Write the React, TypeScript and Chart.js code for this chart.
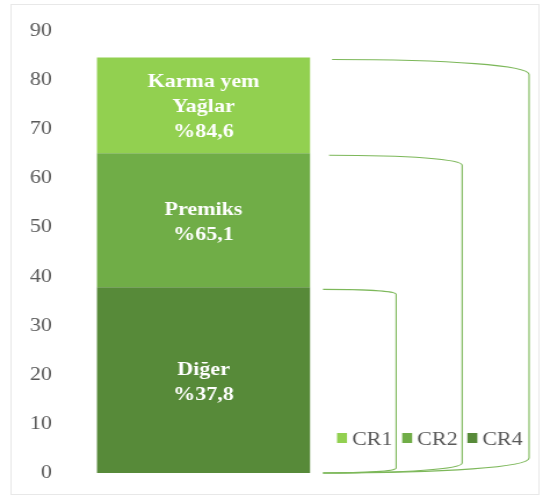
import React, { useEffect, useRef } from 'react';
import { Chart, registerables } from 'chart.js';

Chart.register(...registerables);

// ---- data ----
const categories = [''];
const seriesNames = ['CR4', 'CR2', 'CR1'];
const cumulativeShares = [37.8, 65.1, 84.6];
const segmentTexts = [
  ['Diğer', '%37,8'],
  ['Premiks', '%65,1'],
  ['Karma yem', 'Yağlar', '%84,6'],
];
const legendOrder = ['CR1', 'CR2', 'CR4'];
const yMin = 0;
const yMax = 90;
const yStep = 10;

// ---- styles ----
const seriesColors = ['#578A39', '#70AD47', '#92D050'];
const W = 468;
const H = 499;
const CSS_W = 543;
const SERIF = '"Liberation Serif", "Times New Roman", serif';
const bracketGeom = [
  { x0: 278.4, x1: 341.4, drop: 5 },
  { x0: 283.6, x1: 398.3, drop: 10 },
  { x0: 286.2, x1: 456, drop: 15 },
];
const bracketEndX = 278.4;

const segmentValues = cumulativeShares.map((v, i) =>
  +(v - (i > 0 ? cumulativeShares[i - 1] : 0)).toFixed(1)
);

const framePlugin = {
  id: 'frame',
  beforeDraw(chart: any) {
    const ctx = chart.ctx;
    ctx.save();
    ctx.fillStyle = '#ffffff';
    ctx.fillRect(0, 0, chart.width, chart.height);
    ctx.strokeStyle = '#E8E8E8';
    ctx.lineWidth = 1;
    ctx.strokeRect(9.5, 4.5, 455, 490);
    ctx.restore();
  },
};

const overlayPlugin = {
  id: 'overlay',
  afterDatasetsDraw(chart: any) {
    const ctx = chart.ctx;
    const y = chart.scales.y;
    ctx.save();
    // segment labels
    ctx.font = `bold 19px ${SERIF}`;
    ctx.fillStyle = '#ffffff';
    ctx.textAlign = 'center';
    ctx.textBaseline = 'middle';
    chart.data.datasets.forEach((ds: any, i: number) => {
      const el = chart.getDatasetMeta(i).data[0];
      if (!el) return;
      const cx = el.x;
      const cy = (el.y + el.base) / 2 + 2;
      const lines = segmentTexts[i];
      const lh = 25;
      lines.forEach((t, k) => {
        ctx.fillText(t, cx, cy + (k - (lines.length - 1) / 2) * lh);
      });
    });
    // brackets
    ctx.strokeStyle = '#7DB85A';
    ctx.lineWidth = 1.1;
    const yB = y.getPixelForValue(0);
    cumulativeShares.forEach((v, i) => {
      const g = bracketGeom[i];
      const yT = y.getPixelForValue(v) + 2;
      ctx.beginPath();
      ctx.moveTo(g.x0, yT);
      ctx.bezierCurveTo(g.x0 + (g.x1 - g.x0) * 0.6, yT, g.x1, yT + g.drop * 0.4, g.x1, yT + g.drop);
      ctx.lineTo(g.x1, yB - g.drop);
      ctx.bezierCurveTo(g.x1, yB - g.drop * 0.4, bracketEndX + (g.x1 - bracketEndX) * 0.6, yB, bracketEndX, yB);
      ctx.stroke();
    });
    // legend
    ctx.font = `19px ${SERIF}`;
    ctx.textAlign = 'left';
    ctx.textBaseline = 'alphabetic';
    let x = 290.5;
    const baseY = 445;
    legendOrder.forEach((name) => {
      const idx = chart.data.datasets.findIndex((d: any) => d.label === name);
      ctx.fillStyle = chart.data.datasets[idx].backgroundColor;
      ctx.fillRect(x, 433, 8.6, 10);
      ctx.fillStyle = '#595959';
      const tx = x + 12.9;
      ctx.fillText(name, tx, baseY);
      x = tx + ctx.measureText(name).width + 8.4;
    });
    ctx.restore();
  },
};

export default function App() {
  const ref = useRef<HTMLCanvasElement | null>(null);
  useEffect(() => {
    if (!ref.current) return;
    const chart = new Chart(ref.current, {
      type: 'bar',
      data: {
        labels: categories,
        datasets: seriesNames.map((name, i) => ({
          label: name,
          data: [segmentValues[i]],
          backgroundColor: seriesColors[i],
          borderWidth: 0,
          barPercentage: 0.939,
          categoryPercentage: 1,
        })),
      },
      options: {
        animation: false,
        responsive: false,
        devicePixelRatio: 1,
        layout: { padding: { top: 31, bottom: 26, left: 0, right: W - 273.2 } },
        plugins: { legend: { display: false }, tooltip: { enabled: false } },
        scales: {
          x: { type: 'category', stacked: true, display: false, grid: { display: false } },
          y: {
            stacked: true,
            min: yMin,
            max: yMax,
            border: { display: false },
            grid: { display: false, drawTicks: false },
            ticks: {
              stepSize: yStep,
              padding: 32.8,
              color: '#595959',
              font: { family: SERIF, size: 19 },
            },
            afterFit: (s: any) => {
              s.width = 77.6;
              s.paddingTop = 0;
              s.paddingBottom = 0;
            },
          },
        },
      },
      plugins: [framePlugin, overlayPlugin],
    });
    return () => chart.destroy();
  }, []);
  return (
    <div style={{ position: 'fixed', left: 0, top: 0, width: CSS_W, height: H, background: '#fff' }}>
      <canvas ref={ref} width={W} height={H} style={{ width: CSS_W + 'px', height: H + 'px', display: 'block' }} />
    </div>
  );
}
